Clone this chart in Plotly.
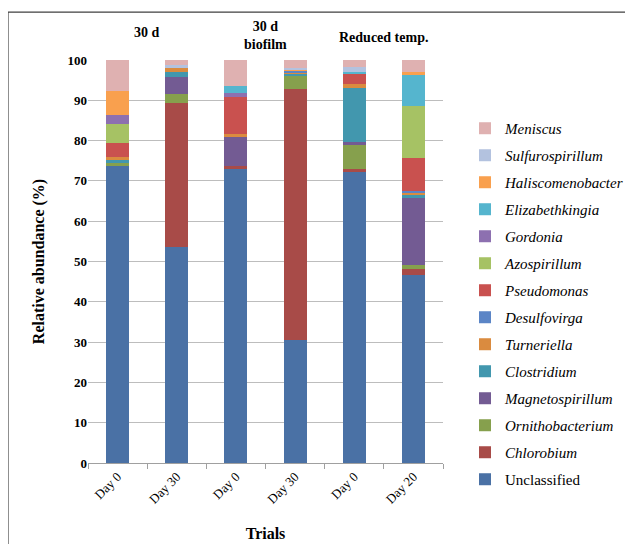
import plotly.graph_objects as go

tick_labels = ["Day 0", "Day 30", "Day 0", "Day 30", "Day 0", "Day 20"]
x_pos = [0, 1, 2, 3, 4, 5]
group_labels = ["30 d", "30 d<br>biofilm", "Reduced temp."]
group_pos = [0.5, 2.5, 4.5]
group_y = [1.067, 1.062, 1.055]

genera = ["Unclassified", "Chlorobium", "Ornithobacterium", "Magnetospirillum",
          "Clostridium", "Turneriella", "Desulfovirga", "Pseudomonas", "Azospirillum",
          "Gordonia", "Elizabethkingia", "Haliscomenobacter", "Sulfurospirillum", "Meniscus"]

unclassified      = [73.8, 53.6, 72.9, 30.4, 72.3, 46.6]
chlorobium        = [0.0, 35.65, 0.85, 62.3, 0.6, 1.5]
ornithobacterium  = [0.65, 2.25, 0.0, 3.3, 6.1, 1.0]
magnetospirillum  = [0.0, 4.25, 7.25, 0.0, 0.75, 16.6]
clostridium       = [0.85, 1.15, 0.0, 0.5, 13.35, 0.7]
turneriella       = [0.75, 1.2, 0.75, 0.5, 1.0, 0.6]
desulfovirga      = [0.0, 0.0, 0.0, 0.4, 0.0, 0.6]
pseudomonas       = [3.4, 0.0, 9.1, 0.0, 2.6, 8.0]
azospirillum      = [4.6, 0.0, 0.0, 0.0, 0.0, 12.9]
gordonia          = [2.4, 0.0, 0.9, 0.0, 0.0, 0.0]
elizabethkingia   = [0.0, 0.0, 1.75, 0.0, 0.4, 7.9]
haliscomenobacter = [5.9, 0.0, 0.0, 0.3, 0.0, 0.5]
sulfurospirillum  = [0.0, 0.65, 0.0, 0.25, 1.25, 0.0]
meniscus          = [7.7, 1.25, 6.5, 2.1, 1.7, 3.1]

values = [unclassified, chlorobium, ornithobacterium, magnetospirillum, clostridium,
          turneriella, desulfovirga, pseudomonas, azospirillum, gordonia,
          elizabethkingia, haliscomenobacter, sulfurospirillum, meniscus]

colors = ["#4A71A5", "#A84B48", "#86A04D", "#735B93", "#4297AE", "#DA8B3F", "#5B85C6",
          "#C9514F", "#A6C264", "#8D70B0", "#55B5CE", "#F9A04E", "#B3C2DF", "#DFB1B1"]

fig = go.Figure()
n = len(genera)
for i, (name, vals, col) in enumerate(zip(genera, values, colors)):
    label = name if name == "Unclassified" else "<i>" + name + "</i>"
    fig.add_trace(go.Bar(x=x_pos, y=vals, name=label, marker_color=col,
                         marker_line_width=0, legendgroup=name, legendrank=n - i))

for txt, gx, gy in zip(group_labels, group_pos, group_y):
    fig.add_annotation(x=gx, xref="x", y=gy, yref="paper", text="<b>" + txt + "</b>",
                       showarrow=False, font=dict(family="Liberation Serif", size=14, color="black"),
                       yanchor="middle")

fig.add_shape(type="rect", xref="paper", yref="paper", x0=-0.2254, x1=1.56, y0=-0.23, y1=1.119,
              line=dict(color="#404040", width=1.2), fillcolor="rgba(0,0,0,0)", layer="below")

fig.update_layout(
    width=625, height=536,
    margin=dict(l=80, r=190, t=52, b=81, autoexpand=False),
    barmode="stack", bargap=0.61,
    plot_bgcolor="white", paper_bgcolor="white",
    font=dict(family="Liberation Serif", size=13, color="black"),
    showlegend=True,
    legend=dict(x=1.062, y=0.871, xanchor="left", yanchor="top",
                traceorder="grouped", tracegroupgap=4.5, itemwidth=30,
                font=dict(family="Liberation Serif", size=15, color="black")),
    xaxis=dict(range=[-0.5, 5.5], tickmode="array", tickvals=x_pos, ticktext=tick_labels,
               tickangle=-45, ticks="", showgrid=False, zeroline=False,
               showline=True, linecolor="#A0A0A0", linewidth=1,
               minor=dict(tickmode="array", tickvals=[-0.5, 0.5, 1.5, 2.5, 3.5, 4.5, 5.5],
                          ticks="outside", ticklen=5, tickcolor="#A0A0A0", showgrid=False),
               title=dict(text="<b>Trials</b>", font=dict(size=16), standoff=22),
               tickfont=dict(size=13)),
    yaxis=dict(range=[0, 100], dtick=10, showgrid=True, gridcolor="#BDBDBD", gridwidth=1,
               zeroline=False, showline=False, ticks="",
               tickfont=dict(size=13, family="Liberation Serif"),
               tickprefix="<b>", ticksuffix="</b>",
               title=dict(text="<b>Relative abundance (%)</b>", font=dict(size=16), standoff=18)),
)

fig.write_html("out.html")
